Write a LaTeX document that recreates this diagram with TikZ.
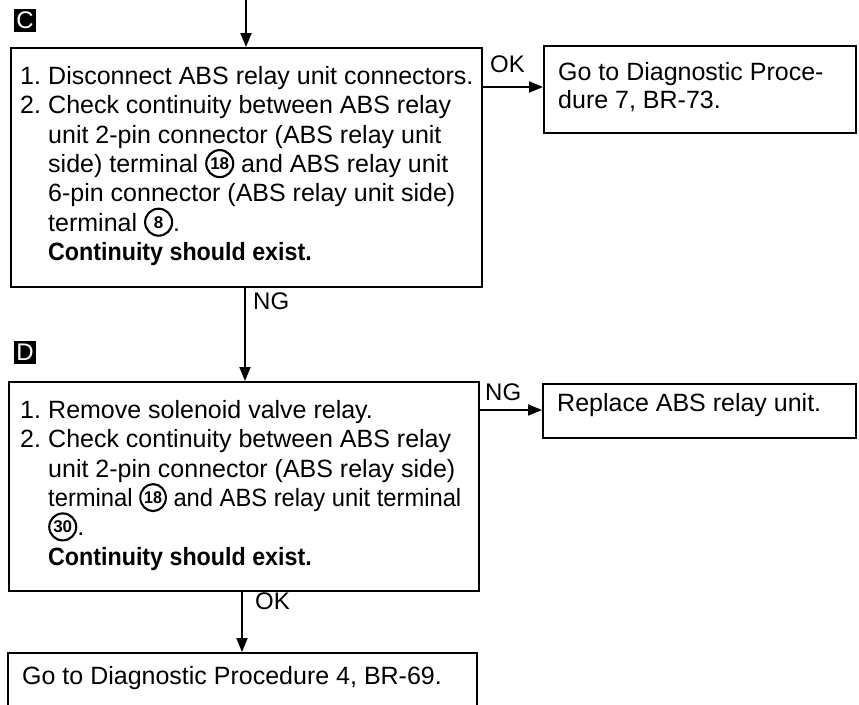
\documentclass[tikz,border=0pt]{standalone}
\usepackage{fontspec}
\setmainfont{Liberation Sans}
\usetikzlibrary{arrows.meta}
\newcommand\cnum[2]{\tikz[baseline=-8.9pt,x=1pt,y=1pt]{\node[circle,draw,line width=2.1pt,inner sep=0pt,minimum size=27pt,anchor=center,align=center,font=\bfseries\fontsize{17}{17}\selectfont] (#2) at (0,0) {#1};}}
\newcommand\fst{\rule{0pt}{20pt}}
\newcommand\ind{\hspace*{28pt}}
\newcommand\num[1]{\makebox[28pt][l]{#1}}
\newcommand\bld[1]{\scalebox{0.93}[1]{\textbf{#1}}}
\tikzset{
  box/.style={draw,line width=1.8pt,rectangle,inner sep=0pt,anchor=north west},
  txt/.style={inner sep=0pt,align=left,anchor=north west,font=\fontsize{25}{29.3}\selectfont},
  lbl/.style={inner sep=0pt,anchor=base west,font=\fontsize{24}{28}\selectfont},
  tag/.style={fill=black,text=white,inner sep=0pt,minimum width=22pt,minimum height=23pt,font=\fontsize{24}{24}\selectfont},
  arr/.style={line width=1.8pt,-{Triangle[length=14pt,width=11pt]}},
}
\begin{document}
\begin{tikzpicture}[x=1pt,y=-1pt]
\useasboundingbox (0,0) rectangle (859,704);
\clip (0,0) rectangle (859,704);
% tags
\node[tag] (tagC) at (25,20) {C};
\node[tag] (tagD) at (25,352) {D};
% boxes
\node[box,minimum width=471pt,minimum height=239pt] (C) at (10,47) {};
\node[box,minimum width=312pt,minimum height=87pt] (OKb) at (543,45) {};
\node[box,minimum width=470pt,minimum height=209pt] (D) at (8,381) {};
\node[box,minimum width=313pt,minimum height=54pt] (R) at (542,383) {};
\node[box,minimum width=469pt,minimum height=90pt] (F) at (7,652) {};
% texts
\node[txt] (Ct) at (20,64.4) {\fst\num{1.}Disconnect ABS relay unit connectors.\\
\num{2.}Check continuity between ABS relay\\
\ind unit 2-pin connector (ABS relay unit\\
\ind side) terminal \cnum{18}{ca} and ABS relay unit\\
\ind 6-pin connector (ABS relay unit side)\\
\ind terminal \cnum{8}{cb}.\\
\ind\bld{Continuity should exist.}};
\node[txt,font=\fontsize{25}{28}\selectfont] (OKt) at (558,60) {\fst Go to Diagnostic Proce-\\dure 7, BR-73.};
\node[txt] (Dt) at (20,398.4) {\fst\num{1.}Remove solenoid valve relay.\\
\num{2.}Check continuity between ABS relay\\
\ind unit 2-pin connector (ABS relay side)\\
\ind\scalebox{0.95}[1]{terminal \cnum{18}{cc} and ABS relay unit terminal}\\
\ind \cnum{30}{cd}.\\
\ind\bld{Continuity should exist.}};
\node[txt,anchor=base west] (Rt) at (557,411) {Replace ABS relay unit.};
\node[txt,anchor=base west] (Ft) at (22,684) {Go to Diagnostic Procedure 4, BR-69.};
% labels
\node[lbl] (lok1) at (490,72.4) {OK};
\node[lbl] (lng1) at (253,309) {NG};
\node[lbl] (lng2) at (485,400) {NG};
\node[lbl] (lok2) at (255,609) {OK};
% connectors
\coordinate (top) at (246,-2);
\coordinate (x1) at (245,0);
\coordinate (x2) at (242,0);
\coordinate (h1) at (0,87);
\coordinate (h2) at (0,410);
\draw[arr] (top) -- (top |- C.north);
\draw[arr] (h1 -| C.east) -- (h1 -| OKb.west);
\draw[arr] (x1 |- C.south) -- (x1 |- D.north);
\draw[arr] (h2 -| D.east) -- (h2 -| R.west);
\draw[arr] (x2 |- D.south) -- (x2 |- F.north);
\end{tikzpicture}
\end{document}
